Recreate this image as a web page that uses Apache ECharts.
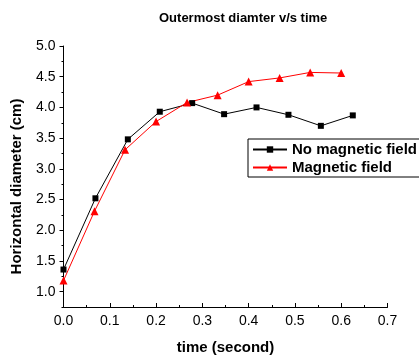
<!DOCTYPE html>
<html>
<head>
<meta charset="utf-8">
<script src="https://cdn.jsdelivr.net/npm/echarts@6/dist/echarts.min.js"></script>
<style>
  html, body { margin: 0; padding: 0; background: #fff; }
  #chart { width: 419px; height: 360px; }
</style>
</head>
<body>
<div id="chart"></div>
<script>
// values
const timeNoField = [0.0, 0.069, 0.139, 0.208, 0.278, 0.347, 0.417, 0.486, 0.556, 0.625];
const diamNoField = [1.36, 2.52, 3.48, 3.93, 4.07, 3.89, 4.00, 3.88, 3.70, 3.87];
const timeField = [0.0, 0.067, 0.133, 0.200, 0.267, 0.333, 0.400, 0.467, 0.533, 0.600];
const diamField = [1.18, 2.31, 3.31, 3.77, 4.08, 4.20, 4.42, 4.48, 4.57, 4.56];

const yMajorTicks = [1.0, 1.5, 2.0, 2.5, 3.0, 3.5, 4.0, 4.5, 5.0];
const yMinorTicks = [0.75, 1.25, 1.75, 2.25, 2.75, 3.25, 3.75, 4.25, 4.75];

const FONT = '"Liberation Sans", Arial, sans-serif';

const chart = echarts.init(document.getElementById('chart'));

const option = {
  animation: false,
  title: {
    text: 'Outermost diamter v/s time',
    left: 154,
    top: 7,
    textStyle: { fontFamily: FONT, fontSize: 13, fontWeight: 'bold', color: '#000' }
  },
  grid: { left: 63.5, right: 31.5, top: 46, bottom: 50.5 },
  legend: {
    orient: 'vertical',
    left: 248,
    top: 139,
    padding: [3, 3, 2, 4],
    itemGap: 3,
    itemWidth: 34,
    itemHeight: 8,
    itemTextGap: 5,
    borderColor: '#000',
    borderWidth: 1,
    textStyle: { fontFamily: FONT, fontSize: 15, fontWeight: 'bold', color: '#000', lineHeight: 15 },
    data: ['No magnetic field', 'Magnetic field']
  },
  xAxis: {
    type: 'value',
    min: 0,
    max: 0.7,
    interval: 0.1,
    name: 'time (second)',
    nameLocation: 'middle',
    nameGap: 33,
    nameTextStyle: { fontFamily: FONT, fontSize: 15, fontWeight: 'bold', color: '#000' },
    axisLine: { lineStyle: { color: '#000', width: 1 } },
    axisTick: { inside: true, length: 4, lineStyle: { color: '#000' } },
    minorTick: { show: true, splitNumber: 2, length: 2, lineStyle: { color: '#000' } },
    axisLabel: {
      margin: 7,
      fontFamily: FONT, fontSize: 14, color: '#000',
      formatter: v => v.toFixed(1)
    },
    splitLine: { show: false }
  },
  yAxis: [
    {
      type: 'value',
      min: 0.75,
      max: 5,
      interval: 0.25,
      name: 'Horizontal diameter (cm)',
      nameLocation: 'middle',
      nameGap: 39,
      // right padding nudges the rotated name a little lower, as in the original
      nameTextStyle: { fontFamily: FONT, fontSize: 15, fontWeight: 'bold', color: '#000', padding: [0, 20, 0, 0] },
      axisLine: { show: true, lineStyle: { color: '#000', width: 1 } },
      axisTick: { show: true, length: 4, customValues: yMajorTicks, lineStyle: { color: '#000' } },
      axisLabel: {
        margin: 8,
        fontFamily: FONT, fontSize: 14, color: '#000',
        customValues: yMajorTicks,
        formatter: v => v.toFixed(1)
      },
      splitLine: { show: false }
    },
    {
      type: 'value',
      min: 0.75,
      max: 5,
      interval: 0.25,
      position: 'left',
      axisLine: { show: false },
      axisTick: { show: true, length: 2, customValues: yMinorTicks, lineStyle: { color: '#000' } },
      axisLabel: { show: false },
      splitLine: { show: false }
    }
  ],
  series: [
    {
      name: 'No magnetic field',
      type: 'line',
      data: timeNoField.map((t, i) => [t, diamNoField[i]]),
      symbol: 'rect',
      symbolSize: 6,
      itemStyle: { color: '#000' },
      lineStyle: { color: '#000', width: 1 }
    },
    {
      name: 'Magnetic field',
      type: 'line',
      data: timeField.map((t, i) => [t, diamField[i]]),
      symbol: 'triangle',
      symbolSize: 8,
      itemStyle: { color: '#ff0000' },
      lineStyle: { color: '#ff0000', width: 1 }
    }
  ]
};

chart.setOption(option);
</script>
</body>
</html>
